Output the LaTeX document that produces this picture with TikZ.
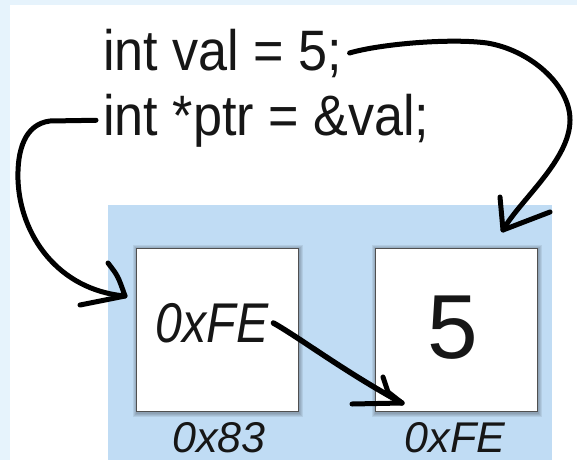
\documentclass[tikz,border=0pt]{standalone}
\usepackage{fontspec}
\setmainfont{Liberation Sans}
\newfontfamily\codefont[FakeStretch=0.915]{Liberation Sans}
\newfontfamily\cellfont[FakeStretch=0.86]{Liberation Sans}
\usetikzlibrary{calc}
\definecolor{framebg}{RGB}{230,243,252}
\definecolor{panelblue}{RGB}{192,220,244}
\definecolor{ink}{RGB}{22,22,22}
\begin{document}
\begin{tikzpicture}[x=1pt,y=-1pt,
  hand/.style={line width=5pt, line cap=round, line join=round, draw=black},
  cell/.style={fill=white, draw=ink!75, line width=1.2pt, minimum width=162pt,
    minimum height=163pt, inner sep=0pt, anchor=north west},
  code/.style={font=\codefont\fontsize{57}{60}\selectfont, text=ink,
    inner sep=0pt, anchor=base west},
  addr/.style={font=\fontsize{43}{44}\selectfont\itshape, text=ink, inner sep=0pt}]
\useasboundingbox (0,0) rectangle (577,460);
% frame and memory panel
\fill[framebg] (0,0) rectangle (577,460);
\fill[white] (10,5) rectangle (577,460);
\fill[panelblue] (108,205) rectangle (552,460);
% soft shadows under the two cells
\foreach \x in {136,375}{
  \foreach \s in {1,2,3,4}
    \fill[black, opacity=0.07] (\x-\s+1,248-\s+1) rectangle (\x+162+\s+1,411+\s+1.5);
}
% the two memory cells
\node[cell] (boxp) at (136,248) {};
\node[cell] (boxv) at (375,248) {};
\node[font=\cellfont\fontsize{56}{58}\selectfont\itshape, text=ink, inner sep=0pt]
  (valp) at (212,323) {0xFE};
\node[font=\fontsize{91}{92}\selectfont, text=ink, inner sep=0pt] (valv) at (453,328) {5};
\node[addr] (addrp) at (219,438) {0x83};
\node[addr] (addrv) at (455,438) {0xFE};
% source lines
\node[code] (code1) at (103,70) {int val = 5;};
\node[code] (code2) at (103,135) {int *ptr = \&val;};
% arrow tips
\coordinate (tipv) at (503,230);
\coordinate (tipp) at (125,296);
\coordinate (tipx) at (402,403);
% val -> its cell
\draw[hand] ([xshift=7pt]code1.east) .. controls (380,44) and (450,38) .. (487,43)
  .. controls (530,50) and (570,85) .. (570,120)
  .. controls (570,160) and (520,200) .. (tipv);
\draw[hand] ([shift={(-3,-33)}]tipv) -- (tipv) -- ([shift={(47,-18)}]tipv);
% ptr -> its cell
\draw[hand] ([xshift=-7pt]code2.west) -- (50,121)
  .. controls (25,124) and (17,150) .. (18,180)
  .. controls (20,235) and (58,290) .. (tipp);
\draw[hand] ([shift={(-17,-33)}]tipp) .. controls ([shift={(-7,-20)}]tipp) .. (tipp)
  -- ([shift={(-45,9)}]tipp);
% stored address -> pointed cell
\draw[hand, line width=5.5pt] ([xshift=5pt]valp.east) .. controls (300,338) and (345,372) .. (tipx);
\draw[hand] ([shift={(-19,-26)}]tipx) -- ([shift={(-14,-11)}]tipx) -- (tipx)
  -- ([shift={(-50,1)}]tipx);
\end{tikzpicture}
\end{document}
